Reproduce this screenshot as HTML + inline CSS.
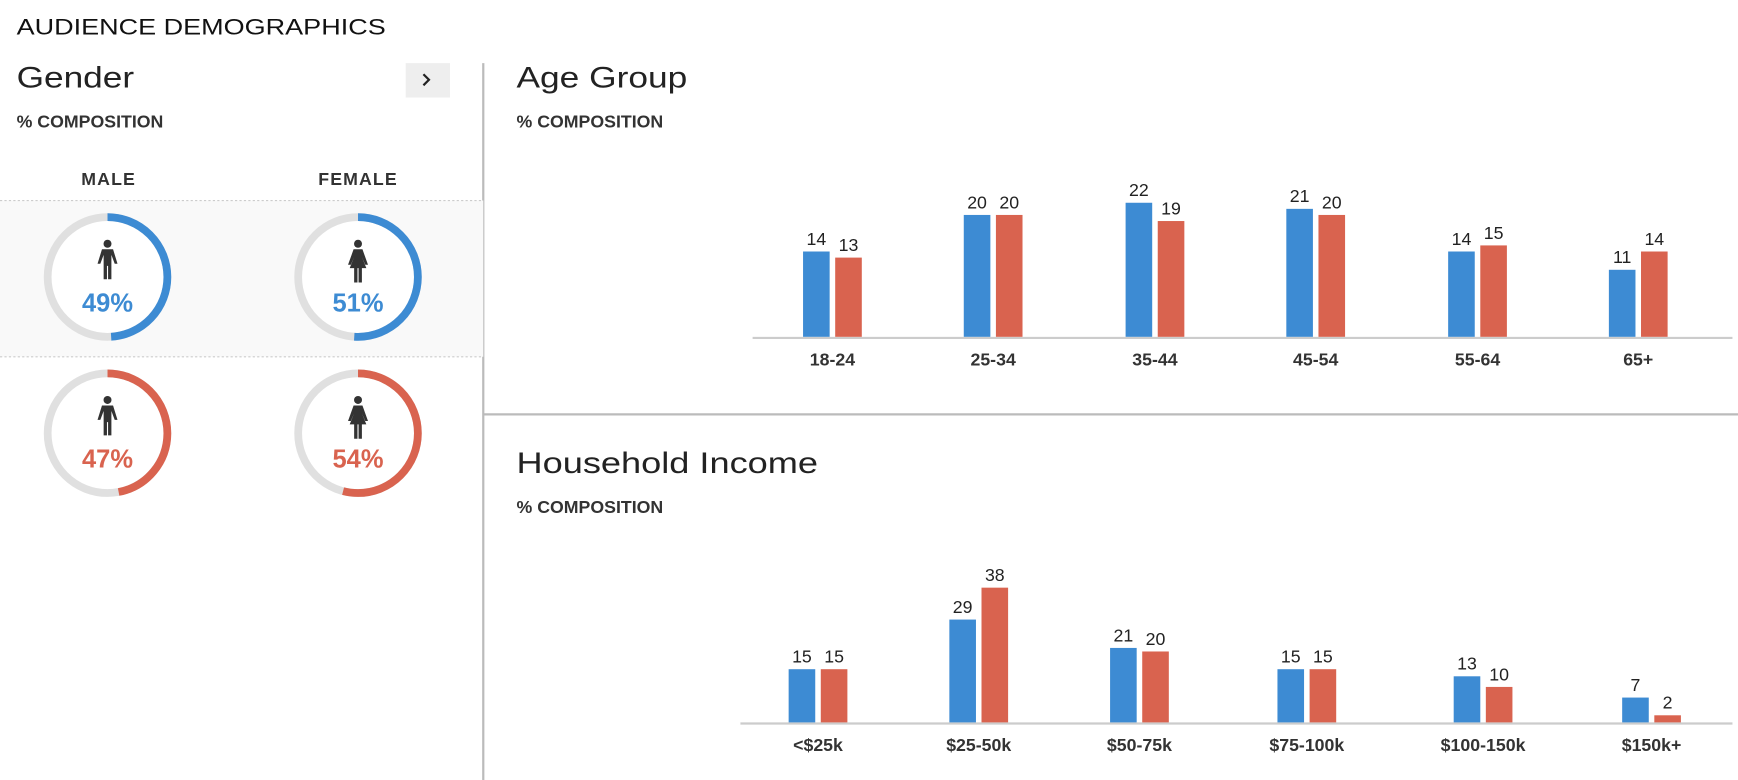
<!DOCTYPE html>
<html><head><meta charset="utf-8"><style>
html,body{margin:0;padding:0;background:#fff;}
svg{display:block;}
text{font-family:"Liberation Sans",sans-serif;}
</style></head><body>
<svg width="1738" height="780" viewBox="0 0 1568 704" preserveAspectRatio="none" xmlns="http://www.w3.org/2000/svg">
<defs>
<g id="man" fill="#333">
<circle cx="0" cy="-16" r="3.6"/>
<path d="M-5,-11 h10 l4,13 h-2.5 l-3,-8 v22 h-3 v-12 h-1 v12 h-3 v-22 l-3,8 h-2.5 z"/>
</g>
<g id="woman" fill="#333">
<circle cx="0" cy="-16" r="3.6"/>
<path d="M-4,-11 h8 l5,14 h-2.5 l-3,-7 l4,10 h-4 v13 h-3 v-13 h-1 v13 h-3 v-13 h-4 l4,-10 l-3,7 h-2.5 z"/>
</g>
</defs>
<text x="15" y="31" font-size="20" fill="#111" textLength="333" lengthAdjust="spacingAndGlyphs">AUDIENCE DEMOGRAPHICS</text>
<text x="15" y="79" font-size="27" fill="#222" textLength="106" lengthAdjust="spacingAndGlyphs">Gender</text>
<rect x="366" y="57" width="40" height="31" fill="#eee"/>
<path d="M382,67 l5,5 l-5,5" stroke="#222" stroke-width="2" fill="none"/>
<text x="15" y="115" font-size="16" font-weight="bold" fill="#333">% COMPOSITION</text>
<line x1="436" y1="57" x2="436" y2="704" stroke="#bbb" stroke-width="2"/>
<text x="98" y="167" font-size="16" font-weight="bold" fill="#333" text-anchor="middle" letter-spacing="1">MALE</text>
<text x="323" y="167" font-size="16" font-weight="bold" fill="#333" text-anchor="middle" letter-spacing="1">FEMALE</text>
<rect x="0" y="181" width="436" height="141" fill="#f9f9f9"/>
<line x1="0" y1="181" x2="436" y2="181" stroke="#ccc" stroke-dasharray="2,2"/>
<line x1="0" y1="322" x2="436" y2="322" stroke="#ccc" stroke-dasharray="2,2"/>
<g fill="none" stroke-width="7">
<circle cx="97" cy="250" r="54" stroke="#e0e0e0" fill="#fff"/>
<circle cx="97" cy="250" r="54" stroke="#3d8bd3" stroke-dasharray="166.3 400" transform="rotate(-90 97 250)"/>
<circle cx="323" cy="250" r="54" stroke="#e0e0e0" fill="#fff"/>
<circle cx="323" cy="250" r="54" stroke="#3d8bd3" stroke-dasharray="173 400" transform="rotate(-90 323 250)"/>
<circle cx="97" cy="391" r="54" stroke="#e0e0e0" fill="#fff"/>
<circle cx="97" cy="391" r="54" stroke="#d9634f" stroke-dasharray="159.5 400" transform="rotate(-90 97 391)"/>
<circle cx="323" cy="391" r="54" stroke="#e0e0e0" fill="#fff"/>
<circle cx="323" cy="391" r="54" stroke="#d9634f" stroke-dasharray="183.2 400" transform="rotate(-90 323 391)"/>
</g>
<use href="#man" x="97" y="236"/>
<use href="#woman" x="323" y="236"/>
<use href="#man" x="97" y="377"/>
<use href="#woman" x="323" y="377"/>
<g font-size="23" font-weight="bold" text-anchor="middle">
<text x="97" y="281" fill="#3d8bd3">49%</text>
<text x="323" y="281" fill="#3d8bd3">51%</text>
<text x="97" y="422" fill="#d9634f">47%</text>
<text x="323" y="422" fill="#d9634f">54%</text>
</g>
<text x="466" y="79" font-size="27" fill="#222" textLength="154" lengthAdjust="spacingAndGlyphs">Age Group</text>
<text x="466" y="115" font-size="16" font-weight="bold" fill="#333">% COMPOSITION</text>
<line x1="436" y1="374" x2="1568" y2="374" stroke="#bbb" stroke-width="2"/>
<text x="466" y="427" font-size="27" fill="#222" textLength="272" lengthAdjust="spacingAndGlyphs">Household Income</text>
<text x="466" y="463" font-size="16" font-weight="bold" fill="#333">% COMPOSITION</text>
<g id="age"></g>
<g id="inc"></g>
</svg>
<script>
(function(){
var NS="http://www.w3.org/2000/svg";
function el(p,t,a,txt){var e=document.createElementNS(NS,t);for(var k in a)e.setAttribute(k,a[k]);if(txt!=null)e.textContent=txt;p.appendChild(e);return e;}
function chart(id,axisY,x0,x1,centers,labels,blue,red,scale){
var g=document.getElementById(id);
el(g,'line',{x1:x0,y1:axisY,x2:x1,y2:axisY,stroke:'#ccc','stroke-width':2});
for(var i=0;i<centers.length;i++){
var c=centers[i],hb=blue[i]*scale,hr=red[i]*scale;
el(g,'rect',{x:c-26.5,y:axisY-1-hb,width:24,height:hb,fill:'#3d8bd3'});
el(g,'rect',{x:c+2.5,y:axisY-1-hr,width:24,height:hr,fill:'#d9634f'});
el(g,'text',{x:c-14.5,y:axisY-1-hb-6,'font-size':16,fill:'#222','text-anchor':'middle'},blue[i]);
el(g,'text',{x:c+14.5,y:axisY-1-hr-6,'font-size':16,fill:'#222','text-anchor':'middle'},red[i]);
el(g,'text',{x:c,y:axisY+25,'font-size':16,'font-weight':'bold',fill:'#333','text-anchor':'middle'},labels[i]);
}}
chart('age',305,679,1563,[751,896,1042,1187,1333,1478],['18-24','25-34','35-44','45-54','55-64','65+'],[14,20,22,21,14,11],[13,20,19,20,15,14],5.5);
chart('inc',653,668,1563,[738,883,1028,1179,1338,1490],['<$25k','$25-50k','$50-75k','$75-100k','$100-150k','$150k+'],[15,29,21,15,13,7],[15,38,20,15,10,2],3.2);
})();
</script>
</body></html>
